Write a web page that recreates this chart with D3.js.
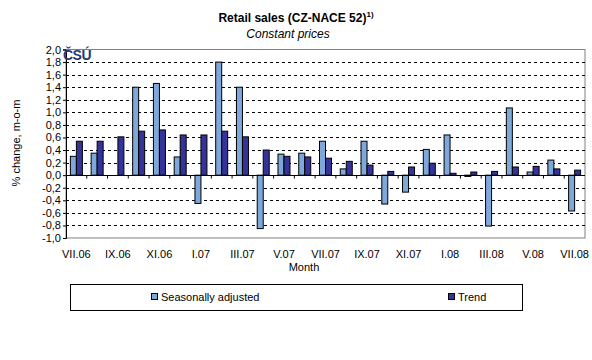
<!DOCTYPE html>
<html><head><meta charset="utf-8">
<script src="https://cdn.jsdelivr.net/npm/d3@7"></script>
<style>body{margin:0;background:#fff}svg{display:block}text{font-family:"Liberation Sans",Arial,sans-serif}</style>
</head><body>
<svg id="c" width="592" height="360"></svg>
<script>
const months = ["VII.06","VIII.06","IX.06","X.06","XI.06","XII.06","I.07","II.07","III.07","IV.07","V.07","VI.07","VII.07","VIII.07","IX.07","X.07","XI.07","XII.07","I.08","II.08","III.08","IV.08","V.08","VI.08","VII.08"];
const seasonallyAdjusted = [0.30,0.35,0.00,1.40,1.46,0.29,-0.45,1.80,1.40,-0.85,0.335,0.35,0.54,0.10,0.54,-0.46,-0.27,0.41,0.64,-0.02,-0.81,1.07,0.05,0.24,-0.57];
const trend = [0.54,0.54,0.61,0.70,0.72,0.64,0.64,0.70,0.61,0.40,0.30,0.29,0.27,0.22,0.16,0.06,0.13,0.19,0.03,0.05,0.06,0.13,0.14,0.10,0.08];
const seriesNames = ["Seasonally adjusted","Trend"];
const yTicks = [-1.0,-0.8,-0.6,-0.4,-0.2,0.0,0.2,0.4,0.6,0.8,1.0,1.2,1.4,1.6,1.8,2.0];

const colors = {"Seasonally adjusted":"#7ea7da","Trend":"#333399"};
const svg = d3.select("#c");
const L=66, R=585, T=49.5, B=238;
const x = d3.scaleBand().domain(months).range([L,R]);
const y = d3.scaleLinear().domain([-1,2]).range([B,T]);
const groupW = 12;
const xs = d3.scaleBand().domain(seriesNames).range([(x.bandwidth()-groupW)/2,(x.bandwidth()+groupW)/2]);
const fmt = v => d3.format(".1f")(v).replace(".",",").replace("−","-");

// plot border
svg.append("rect").attr("x",L).attr("y",T).attr("width",R-L).attr("height",B-T)
  .attr("fill","none").attr("stroke","#808080").attr("stroke-width",1);

// gridlines
svg.append("g").selectAll("line").data(yTicks.filter(v=>v!==0 && v>-1 && v<2)).join("line")
  .attr("x1",L).attr("x2",R).attr("y1",d=>Math.round(y(d))+0.5).attr("y2",d=>Math.round(y(d))+0.5)
  .attr("stroke","#000").attr("stroke-dasharray","3,3").attr("stroke-width",1);

// bars
const data = months.map((m,i)=>({m, vals:[{s:seriesNames[0],v:seasonallyAdjusted[i]},{s:seriesNames[1],v:trend[i]}]}));
const g = svg.append("g");
data.forEach(d=>{
  g.selectAll(null).data(d.vals).join("rect")
    .attr("x",v=>x(d.m)+xs(v.s))
    .attr("width",xs.bandwidth())
    .attr("y",v=>y(Math.max(0,v.v)))
    .attr("height",v=>Math.abs(y(v.v)-y(0)))
    .attr("fill",v=>colors[v.s]).attr("stroke","#000").attr("stroke-width",1);
});

// y axis
const ya = svg.append("g").attr("transform",`translate(${L},0)`)
  .call(d3.axisLeft(y).tickValues(yTicks).tickFormat(fmt).tickSize(3).tickPadding(2));
ya.select(".domain").attr("stroke","#000");
ya.selectAll("line").attr("stroke","#000");
ya.selectAll("text").attr("font-size",11).attr("fill","#000");

// zero axis (category axis)
const y0 = Math.round(y(0))+0.5;
svg.append("line").attr("x1",L).attr("x2",R).attr("y1",y0).attr("y2",y0).attr("stroke","#000");
svg.append("g").selectAll("line").data(months.slice(1)).join("line")
  .attr("x1",d=>x(d)).attr("x2",d=>x(d)).attr("y1",y0).attr("y2",y0+3).attr("stroke","#000");

// x labels
svg.append("g").selectAll("text").data(months.filter((m,i)=>i%2===0)).join("text")
  .attr("x",d=>x(d)+x.bandwidth()/2).attr("y",258).attr("text-anchor","middle")
  .attr("font-size",11).text(d=>d);

// titles
svg.append("text").attr("x",296).attr("y",22).attr("text-anchor","middle").attr("font-size",12).attr("font-weight","bold")
  .text("Retail sales (CZ-NACE 52)").append("tspan").attr("dy",-5).attr("font-size",8).text("1)");
svg.append("text").attr("x",288).attr("y",38).attr("text-anchor","middle").attr("font-size",12).attr("font-style","italic").text("Constant prices");
svg.append("text").attr("x",304).attr("y",271).attr("text-anchor","middle").attr("font-size",11).text("Month");
svg.append("text").attr("transform","translate(20,143) rotate(-90)").attr("text-anchor","middle").attr("font-size",11).text("% change, m-o-m");

// logo
svg.append("text").attr("x",63).attr("y",60).attr("font-size",14).attr("font-weight","bold").attr("fill","#1f3a78")
  .attr("letter-spacing",-0.5).text("ČSÚ");

// legend
svg.append("rect").attr("x",70.5).attr("y",284.5).attr("width",452).attr("height",26).attr("fill","#fff").attr("stroke","#000");
const lg = svg.append("g").selectAll("g").data(seriesNames).join("g")
  .attr("transform",(d,i)=>`translate(${i===0?151:448},293)`);
lg.append("rect").attr("width",6).attr("height",6).attr("y",0.5).attr("x",0.5).attr("fill",d=>colors[d]).attr("stroke","#000");
lg.append("text").attr("x",10).attr("y",7.5).attr("font-size",11).text(d=>d);
</script>
</body></html>
